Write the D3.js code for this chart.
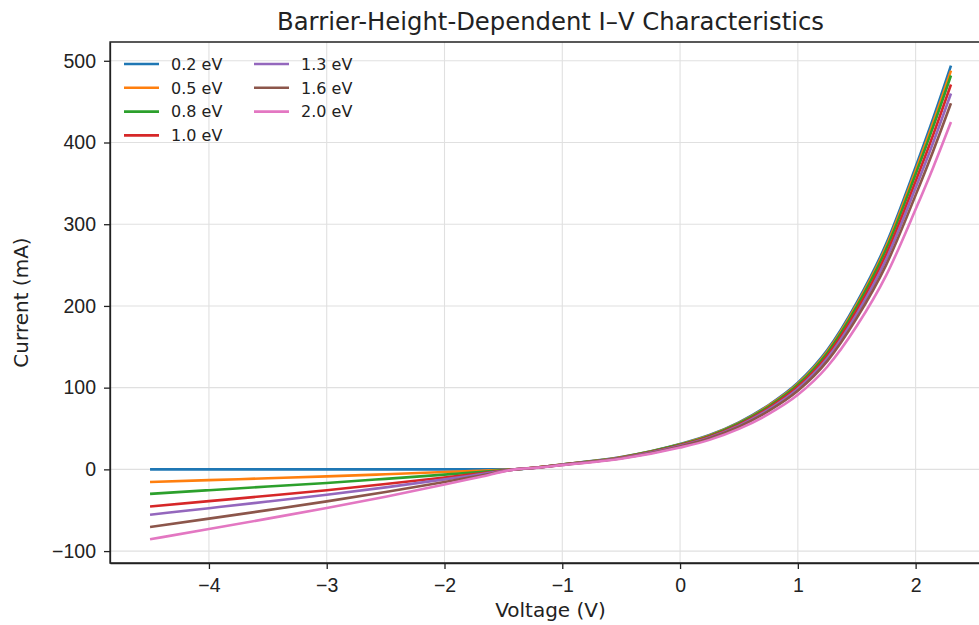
<!DOCTYPE html>
<html>
<head>
<meta charset="utf-8">
<script src="https://cdn.jsdelivr.net/npm/d3@7"></script>
<style>
  html, body { margin: 0; padding: 0; background: #fff; }
  svg { display: block; font-family: "DejaVu Sans", sans-serif; }
  .grid line { stroke: #e0e0e0; stroke-width: 1.1; }
  .axis path, .axis line { stroke: #222; stroke-width: 1.3; }
  .axis text { fill: #222; font-size: 19.5px; }
</style>
</head>
<body>
<svg id="chart" width="979" height="625"></svg>
<script>
// Barrier heights (legend labels) and line colours
const barriers = ['0.2 eV', '0.5 eV', '0.8 eV', '1.0 eV', '1.3 eV', '1.6 eV', '2.0 eV'];
const colors = ['#1f77b4', '#ff7f0e', '#2ca02c', '#d62728', '#9467bd', '#8c564b', '#e377c2'];

// Voltage samples (V)
const voltage = [-4.5, -4, -3.5, -3, -2.5, -2, -1.7, -1.4, -1.2, -1, -0.5, 0, 0.25, 0.5, 0.75, 1, 1.25, 1.5, 1.75, 2, 2.15, 2.3];

// Current (mA) per barrier height
const current02 = [0, 0, 0, 0, 0, 0, 0, 0, 2.5, 6, 15, 31, 42, 57.5, 78.5, 106, 146, 204, 276, 370, 430, 494];
const current05 = [-15.5, -13.2, -10.9, -8.6, -6, -3.3, -1.6, 0, 2.5, 5.9, 14.8, 30.6, 41.5, 56.8, 77.6, 104.7, 144.2, 201.6, 272.7, 365.6, 424.8, 488];
const current08 = [-30, -25.5, -21, -16.6, -11.6, -6.4, -3.2, 0, 2.4, 5.9, 14.6, 30.3, 41, 56.1, 76.6, 103.5, 142.5, 199.1, 269.4, 361.1, 419.7, 482];
const current10 = [-45.5, -38.9, -32.3, -25.5, -18, -10, -5, 0, 2.4, 5.7, 14.3, 29.5, 40, 54.8, 74.8, 101, 139.1, 194.4, 263, 352.6, 409.8, 471];
const current13 = [-55.5, -47.5, -39.4, -31, -22, -12.2, -6.1, 0, 2.3, 5.6, 14, 28.9, 39.1, 53.5, 73.1, 98.7, 135.9, 189.9, 257, 344.5, 400.3, 460];
const current16 = [-70.5, -60.3, -49.9, -39.2, -27.7, -15.4, -7.7, 0, 2.3, 5.4, 13.6, 28.1, 38.1, 52.2, 71.2, 96.1, 132.4, 185, 250.3, 335.6, 390, 448];
const current20 = [-85.6, -73, -60.3, -47.3, -33.4, -18.6, -9.3, 0, 2.1, 5.2, 12.9, 26.7, 36.1, 49.5, 67.5, 91.2, 125.6, 175.4, 237.4, 318.2, 369.8, 425];
const currents = [current02, current05, current08, current10, current13, current16, current20];

const xTicks = [-4, -3, -2, -1, 0, 1, 2];
const yTicks = [-100, 0, 100, 200, 300, 400, 500];

const svg = d3.select('#chart');
const plotL = 110, plotR = 991, plotT = 42, plotB = 563;

// matplotlib-style 5% margins
const xMin = d3.min(voltage), xMax = d3.max(voltage);
const allI = currents.flat();
const yMin = d3.min(allI), yMax = d3.max(allI);
const xPad = (xMax - xMin) * 0.05, yPad = (yMax - yMin) * 0.05;

const x = d3.scaleLinear().domain([xMin - xPad, xMax + xPad]).range([plotL, plotR]);
const y = d3.scaleLinear().domain([yMin - yPad, yMax + yPad]).range([plotB, plotT]);

// Grid
svg.append('g').attr('class', 'grid')
  .selectAll('line').data(xTicks).join('line')
  .attr('x1', d => x(d)).attr('x2', d => x(d)).attr('y1', plotT).attr('y2', plotB);
svg.append('g').attr('class', 'grid')
  .selectAll('line').data(yTicks).join('line')
  .attr('x1', plotL).attr('x2', plotR).attr('y1', d => y(d)).attr('y2', d => y(d));

// Lines
const line = d3.line().x((d, i) => x(voltage[i])).y(d => y(d)).curve(d3.curveMonotoneX);
svg.append('g').selectAll('path').data(currents).join('path')
  .attr('d', line)
  .attr('fill', 'none')
  .attr('stroke', (d, i) => colors[i])
  .attr('stroke-width', 2.6)
  .attr('stroke-linejoin', 'round');

// Axes
const fmt = d3.format('d');
svg.append('g').attr('class', 'axis')
  .attr('transform', `translate(0,${plotB})`)
  .call(d3.axisBottom(x).tickValues(xTicks).tickFormat(fmt).tickSize(6).tickPadding(9).tickSizeOuter(0));
svg.append('g').attr('class', 'axis')
  .attr('transform', `translate(${plotL},0)`)
  .call(d3.axisLeft(y).tickValues(yTicks).tickFormat(fmt).tickSize(6).tickPadding(8).tickSizeOuter(0));

// Spines: left, bottom, top (right one falls outside the picture)
svg.append('path')
  .attr('d', `M${plotR},${plotT}H${plotL}V${plotB}H${plotR}`)
  .attr('fill', 'none').attr('stroke', '#222').attr('stroke-width', 1.3);

// Title and axis labels
svg.append('text')
  .attr('x', (plotL + plotR) / 2).attr('y', 30)
  .attr('text-anchor', 'middle').attr('fill', '#222')
  .style('font-size', '24.3px')
  .text('Barrier-Height-Dependent I–V Characteristics');
svg.append('text')
  .attr('x', (plotL + plotR) / 2).attr('y', 617)
  .attr('text-anchor', 'middle').attr('fill', '#222')
  .style('font-size', '20px')
  .text('Voltage (V)');
svg.append('text')
  .attr('transform', `translate(28,${(plotT + plotB) / 2}) rotate(-90)`)
  .attr('text-anchor', 'middle').attr('fill', '#222')
  .style('font-size', '20px')
  .text('Current (mA)');

// Legend: two columns, no frame
const legend = svg.append('g').selectAll('g').data(barriers).join('g')
  .attr('transform', (d, i) => `translate(${124 + Math.floor(i / 4) * 130},${64 + (i % 4) * 23.8})`);
legend.append('line')
  .attr('x1', 0).attr('x2', 35).attr('y1', 0).attr('y2', 0)
  .attr('stroke', (d, i) => colors[i]).attr('stroke-width', 2.6);
legend.append('text')
  .attr('x', 47).attr('y', 5.8)
  .attr('fill', '#222')
  .style('font-size', '16px')
  .text(d => d);
</script>
</body>
</html>
